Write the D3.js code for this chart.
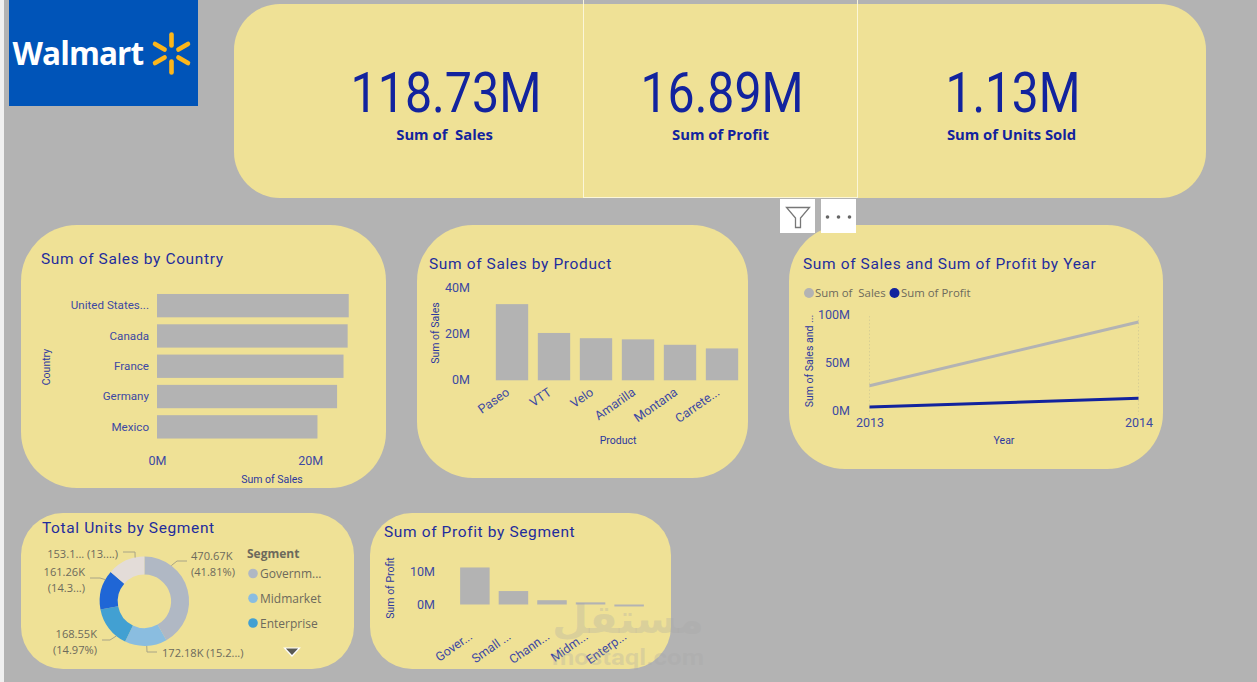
<!DOCTYPE html>
<html>
<head>
<meta charset="utf-8">
<script src="https://cdn.jsdelivr.net/npm/d3@7/dist/d3.min.js"></script>
<style>
  html, body { margin: 0; padding: 0; background: #b3b3b3; overflow: hidden; }
  svg { display: block; }
  text { white-space: pre; }
  .title { font-family: Roboto, sans-serif; font-weight: 400; font-size: 15.5px; letter-spacing: .62px; fill: #1f2d9d; dominant-baseline: central; }
  .tick text { font-family: Roboto, sans-serif; font-size: 12.5px; fill: #3d49a3; }
  .country-axis .tick text { font-size: 11.6px; }
  .axis-title { font-family: Roboto, sans-serif; font-size: 10.5px; font-weight: 400; fill: #2c389f; text-anchor: middle; dominant-baseline: central; }
  .legend { font-family: "Open Sans", sans-serif; font-size: 12px; fill: #6d6a5c; dominant-baseline: central; }
  .legend.small { font-size: 11.1px; }
  .kpi-value { font-family: Roboto, sans-serif; font-weight: 400; font-size: 55px; fill: #12239e; text-anchor: middle; dominant-baseline: central; }
  .kpi-label { font-family: "Open Sans", sans-serif; font-weight: 700; font-size: 14.8px; fill: #12239e; text-anchor: middle; dominant-baseline: central; }
</style>
</head>
<body>
<svg id="board" width="1257" height="682"></svg>
<script>
// Headline figures
const kpiValues = ["118.73M", "16.89M", "1.13M"];
const kpiLabels = ["Sum of  Sales", "Sum of Profit", "Sum of Units Sold"];

// Sales by country (millions)
const countries = ["United States...", "Canada", "France", "Germany", "Mexico"];
const countrySales = [25.03, 24.89, 24.35, 23.51, 20.95];

// Sales by product (millions)
const products = ["Paseo", "VTT", "Velo", "Amarilla", "Montana", "Carrete..."];
const productSales = [33.01, 20.51, 18.25, 17.75, 15.39, 13.82];

// Yearly totals (millions)
const years = ["2013", "2014"];
const yearlySales = [26.05, 92.67];
const yearlyProfit = [3.88, 13.01];

// Units by segment (thousands)
const unitSegments = ["Government", "Midmarket", "Enterprise", "Small Business", "Channel Partners"];
const unitValues = [470.67, 172.18, 168.55, 161.26, 153.1];
const unitLabels = [["470.67K", "(41.81%)"], ["172.18K (15.2...)"], ["168.55K", "(14.97%)"], ["161.26K", "(14.3...)"], ["153.1... (13....)"]];
const legendSegments = ["Governm...", "Midmarket", "Enterprise"];

// Profit by segment (millions)
const profitSegments = ["Gover...", "Small ...", "Chann...", "Midm...", "Enterp..."];
const profitValues = [11.39, 4.14, 1.32, 0.66, -0.61];

const CARD = "#efe196", BAR = "#b3b3b3", NAVY = "#12239e";
const svg = d3.select("#board");

// Page chrome: pale strip down the left edge
svg.append("rect").attr("width", 4).attr("height", 682).attr("fill", "#f0f0f0");

function card(x0, y0, x1, y1, r) {
  svg.append("rect").attr("x", x0).attr("y", y0).attr("width", x1 - x0).attr("height", y1 - y0)
    .attr("rx", r).attr("ry", r).attr("fill", CARD);
}
function title(text, x, y) {
  svg.append("text").attr("class", "title").attr("x", x).attr("y", y).text(text);
}
function axisTitle(text, x, y, vertical) {
  svg.append("text").attr("class", "axis-title")
    .attr("transform", `translate(${x},${y})${vertical ? " rotate(-90)" : ""}`).text(text);
}
function cleanAxis(g) {
  g.select(".domain").remove();
  g.selectAll(".tick line").remove();
}

// Logo
const logo = svg.append("g");
logo.append("rect").attr("x", 9).attr("y", 0).attr("width", 189).attr("height", 106).attr("fill", "#0054b8");
logo.append("text").attr("x", 12.5).attr("y", 65).attr("fill", "#fff")
  .attr("font-family", "'Open Sans', sans-serif").attr("font-weight", 700).attr("font-size", 31.5)
  .attr("letter-spacing", -0.9).text("Walmart");
logo.selectAll("line").data(d3.range(6)).join("line")
  .attr("transform", d => `translate(171.5,53.5) rotate(${d * 60})`)
  .attr("y1", -8).attr("y2", -19).attr("stroke", "#fcb61a").attr("stroke-width", 4.6).attr("stroke-linecap", "round");

// KPI band
card(234, 4, 1206, 198, 46);
svg.append("rect").attr("x", 583.5).attr("y", -2).attr("width", 274).attr("height", 199.5)
  .attr("fill", "none").attr("stroke", "#fbf6d8").attr("stroke-width", 1);
const kpiMid = [446, 722, 1013];
const kpiWidth = [191, 163, 135];
kpiValues.forEach((v, i) => {
  svg.append("text").attr("class", "kpi-value").attr("x", kpiMid[i]).attr("y", 92.5)
    .attr("textLength", kpiWidth[i]).attr("lengthAdjust", "spacingAndGlyphs").text(v);
  svg.append("text").attr("class", "kpi-label").attr("x", kpiMid[i] - 1.5).attr("y", 133.5).text(kpiLabels[i]);
});

// Sales by country
card(21, 225, 386, 488, 56);
title("Sum of Sales by Country", 41, 259);
const cx = d3.scaleLinear().domain([0, 20]).range([157, 310.2]);
const cy = d3.scaleBand().domain(countries).range([290.5, 442]).paddingInner(0.23).paddingOuter(0.115);
svg.append("g").selectAll("rect").data(countrySales).join("rect")
  .attr("x", cx(0)).attr("y", (d, i) => cy(countries[i]))
  .attr("width", d => cx(d) - cx(0)).attr("height", cy.bandwidth()).attr("fill", BAR);
svg.append("g").attr("class", "country-axis").attr("transform", "translate(157,0)")
  .call(d3.axisLeft(cy).tickSize(0).tickPadding(8)).call(cleanAxis);
svg.append("g").attr("transform", "translate(0,456)")
  .call(d3.axisBottom(cx).tickValues([0, 20]).tickFormat(d => d + "M").tickSize(0).tickPadding(0)).call(cleanAxis);
axisTitle("Country", 46, 367, true);
axisTitle("Sum of Sales", 272, 479);

// Sales by product
card(417, 225, 748, 478, 56);
title("Sum of Sales by Product", 429, 264);
const px = d3.scaleBand().domain(products).range([491, 743]).paddingInner(0.23).paddingOuter(0.115);
const py = d3.scaleLinear().domain([0, 40]).range([380.3, 288]);
svg.append("g").selectAll("rect").data(productSales).join("rect")
  .attr("x", (d, i) => px(products[i])).attr("y", d => py(d))
  .attr("width", px.bandwidth()).attr("height", d => py(0) - py(d)).attr("fill", BAR);
svg.append("g").attr("transform", "translate(470,-0.5)")
  .call(d3.axisLeft(py).tickValues([0, 20, 40]).tickFormat(d => d + "M").tickSize(0).tickPadding(0)).call(cleanAxis);
svg.append("g").attr("transform", "translate(0,393)")
  .call(d3.axisBottom(px).tickSize(0).tickPadding(0)).call(cleanAxis)
  .selectAll("text").attr("text-anchor", "end").attr("dy", 0).attr("y", 0).attr("x", -2)
  .attr("transform", "rotate(-35)");
axisTitle("Sum of Sales", 435, 333, true);
axisTitle("Product", 618, 440);

// Sales and profit by year
card(789, 225, 1163, 469, 56);
title("Sum of Sales and Sum of Profit by Year", 803, 264);
const lx = d3.scalePoint().domain(years).range([869.5, 1138.5]);
const ly = d3.scaleLinear().domain([0, 100]).range([410.7, 315]);
svg.append("g").selectAll("line").data(years).join("line")
  .attr("x1", d => lx(d)).attr("x2", d => lx(d)).attr("y1", ly(100) + 1).attr("y2", ly(0) + 4)
  .attr("stroke", "#d8cf94").attr("stroke-width", 1).attr("stroke-dasharray", "1.5 2");
const lineGen = d3.line().x((d, i) => lx(years[i])).y(d => ly(d));
svg.append("path").datum(yearlySales).attr("d", lineGen).attr("fill", "none").attr("stroke", "#b3b3b3").attr("stroke-width", 3);
svg.append("path").datum(yearlyProfit).attr("d", lineGen).attr("fill", "none").attr("stroke", NAVY).attr("stroke-width", 3);
svg.append("g").attr("transform", "translate(850,-0.5)")
  .call(d3.axisLeft(ly).tickValues([0, 50, 100]).tickFormat(d => d + "M").tickSize(0).tickPadding(0)).call(cleanAxis);
svg.append("g").attr("transform", "translate(0,418)")
  .call(d3.axisBottom(lx).tickSize(0).tickPadding(0)).call(cleanAxis);
axisTitle("Sum of Sales and ...", 809, 361, true);
axisTitle("Year", 1004, 440);
[["Sum of  Sales", "#b3b3b3", 809, 815], ["Sum of Profit", NAVY, 894.5, 901]].forEach(([t, c, dot, tx]) => {
  svg.append("circle").attr("cx", dot).attr("cy", 293).attr("r", 5).attr("fill", c);
  svg.append("text").attr("class", "legend").attr("font-size", 11.4).style("font-size", "11.4px").attr("x", tx).attr("y", 292.5).text(t);
});

// Visual header buttons, sitting over the year card's top edge
const btn = svg.append("g");
btn.append("rect").attr("x", 780).attr("y", 199).attr("width", 35).attr("height", 34).attr("fill", "#fff");
btn.append("rect").attr("x", 821).attr("y", 199).attr("width", 35).attr("height", 34).attr("fill", "#fff");
btn.append("path").attr("d", "M786.5 207.5H809.5L800.5 218V227.5H795.5V218Z")
  .attr("fill", "none").attr("stroke", "#777").attr("stroke-width", 1.3);
btn.selectAll("circle").data([-11, 0, 11]).join("circle")
  .attr("cx", d => 838.5 + d).attr("cy", 217).attr("r", 1.8).attr("fill", "#666");

// Units by segment
card(21, 513, 354, 669, 42);
title("Total Units by Segment", 42, 528);
const unitColour = d3.scaleOrdinal().domain(unitSegments).range(["#b0b8c4", "#8abde0", "#42a0d2", "#1f66d6", "#e3dcd8"]);
const pieData = d3.pie().sort(null)(unitValues);
const donutCentre = [144.4, 601.3];
const arc = d3.arc().innerRadius(26.7).outerRadius(44.7);
svg.append("g").attr("transform", `translate(${donutCentre})`)
  .selectAll("path").data(pieData).join("path")
  .attr("d", arc).attr("fill", (d, i) => unitColour(unitSegments[i]));

// Leaders leave the ring at a set bearing, bend once, then run to their label
const leaderLayout = [
  { bearing: 37, elbow: [177, 561], end: [187, 561], textX: 191, textY: 555, anchor: "start" },
  { bearing: 177, elbow: [147, 652], end: [157, 652], textX: 162, textY: 652, anchor: "start" },
  { bearing: 219, elbow: [110, 640], end: [102, 640], textX: 97, textY: 633, anchor: "end" },
  { bearing: 299, elbow: [100, 578], end: [90, 578], textX: 85, textY: 571, anchor: "end" },
  { bearing: 348, elbow: [135, 552], end: [123, 552], textX: 118, textY: 553, anchor: "end" }
];
unitLabels.forEach((lines, i) => {
  const l = leaderLayout[i], a = l.bearing * Math.PI / 180;
  const edge = [donutCentre[0] + Math.sin(a) * 44.7, donutCentre[1] - Math.cos(a) * 44.7];
  svg.append("polyline").attr("points", [edge, l.elbow, l.end].join(" "))
    .attr("fill", "none").attr("stroke", "#a8a487").attr("stroke-width", 1);
  lines.forEach((line, k) => {
    svg.append("text").attr("class", "legend small").attr("x", l.textX).attr("y", l.textY + k * 16)
      .attr("text-anchor", l.anchor).text(line);
  });
});
svg.append("text").attr("class", "legend").attr("x", 247).attr("y", 553).attr("font-weight", 700).text("Segment");
const legendY = d3.scalePoint().domain(legendSegments).range([573.5, 623]);
legendSegments.forEach((s, i) => {
  svg.append("circle").attr("cx", 253).attr("cy", legendY(s)).attr("r", 4.8).attr("fill", unitColour(unitSegments[i]));
  svg.append("text").attr("class", "legend").attr("x", 260).attr("y", legendY(s)).text(s);
});
svg.append("path").attr("d", "M284.5 648H299.5L292 656Z").attr("fill", "#5a5a52").attr("stroke", "#fff").attr("stroke-width", 1.2);

// Profit by segment
card(370, 513, 671, 669, 42);
title("Sum of Profit by Segment", 384, 532);
const sx = d3.scaleBand().domain(profitSegments).range([455.5, 648.5]).paddingInner(0.235).paddingOuter(0.12);
const sy = d3.scaleLinear().domain([0, 10]).range([604.5, 572]);
svg.append("g").selectAll("rect").data(profitValues).join("rect")
  .attr("x", (d, i) => sx(profitSegments[i])).attr("y", d => sy(Math.max(d, 0)))
  .attr("width", sx.bandwidth()).attr("height", d => Math.abs(sy(d) - sy(0))).attr("fill", BAR);
svg.append("g").attr("transform", "translate(435,-0.5)")
  .call(d3.axisLeft(sy).tickValues([0, 10]).tickFormat(d => d + "M").tickSize(0).tickPadding(0)).call(cleanAxis);
svg.append("g").attr("transform", "translate(0,637)")
  .call(d3.axisBottom(sx).tickSize(0).tickPadding(0)).call(cleanAxis)
  .selectAll("text").attr("text-anchor", "end").attr("dy", 0).attr("y", 0).attr("x", -2)
  .attr("transform", "rotate(-35)");
axisTitle("Sum of Profit", 390, 588, true);

// Site mark laid over the lower part of the board
const mark = svg.append("g").attr("fill", "#a6a6a6").attr("fill-opacity", 0.28).attr("text-anchor", "middle");
mark.append("text").attr("x", 628).attr("y", 633).attr("font-family", "'DejaVu Sans', sans-serif")
  .attr("font-weight", 700).attr("font-size", 40).attr("textLength", 152).attr("lengthAdjust", "spacingAndGlyphs").text("مستقل");
mark.append("text").attr("x", 628).attr("y", 665).attr("font-family", "Roboto, sans-serif")
  .attr("font-weight", 700).attr("font-size", 22).attr("textLength", 152).attr("lengthAdjust", "spacingAndGlyphs").text("mostaql.com");
</script>
</body>
</html>
